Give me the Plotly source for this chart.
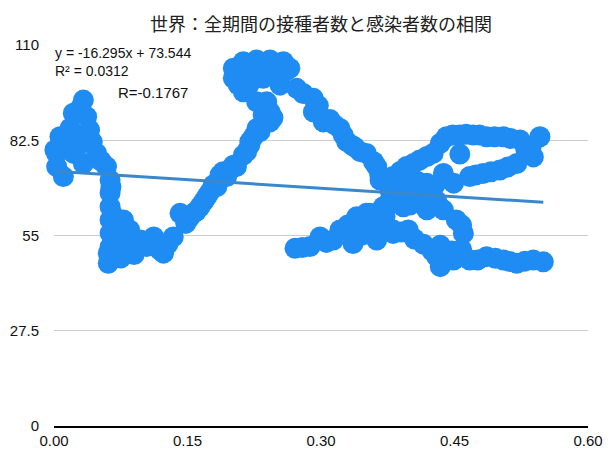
import plotly.graph_objects as go
import numpy as np

# vaccination ratio (x) vs infections (y)
vacc = [
    # left cluster
    0.033, 0.0217, 0.0367, 0.040, 0.0067, 0.012, 0.001, 0.003, 0.003, 0.0105,
    0.022, 0.033, 0.048, 0.059, 0.025, 0.015, 0.028, 0.018, 0.030, 0.043, 0.053,
    # vertical drop
    0.063, 0.063, 0.063, 0.063, 0.063, 0.063, 0.061, 0.061, 0.078, 0.085, 0.070,
    0.064, 0.066, 0.072,
    # bottom
    0.082, 0.097, 0.104, 0.112, 0.119, 0.123, 0.090, 0.075, 0.108, 0.128,
    # rising
    0.134, 0.148, 0.1416, 0.1565, 0.164, 0.1716, 0.179, 0.183, 0.1865, 0.190, 0.194,
    0.152, 0.160, 0.168, 0.175, 0.198,
    0.2015, 0.205, 0.2127, 0.2165, 0.220, 0.220, 0.2315, 0.228, 0.2427, 0.235,
    0.2427, 0.239, 0.2277, 0.2127, 0.2015, 0.224, 0.238, 0.246,
    # top
    0.2015, 0.2127, 0.2277, 0.2427, 0.2577, 0.265, 0.250, 0.235, 0.254, 0.2127, 0.222,
    0.206, 0.218, 0.235, 0.250, 0.260, 0.245, 0.207, 0.219,
    # falling to the right
    0.2727, 0.2914, 0.2914, 0.3026, 0.3213, 0.3289, 0.344, 0.351, 0.359, 0.3626,
    0.366, 0.3663, 0.3775, 0.310, 0.335, 0.280, 0.297, 0.315, 0.325, 0.338, 0.372,
    # upper right loop
    0.381, 0.396, 0.411, 0.426, 0.434, 0.441, 0.456, 0.471, 0.486, 0.505, 0.5236,
    0.546, 0.5386, 0.520, 0.501, 0.482, 0.467, 0.456, 0.4375, 0.449, 0.4187, 0.400, 0.530,
    0.389, 0.404, 0.419, 0.448, 0.463, 0.478, 0.495, 0.513, 0.536, 0.510, 0.491, 0.474,
    0.428, 0.409,
    # crossing
    0.3775, 0.400, 0.4225, 0.4187, 0.400, 0.3775, 0.390, 0.410, 0.430, 0.386,
    # lower right
    0.355, 0.374, 0.3925, 0.419, 0.4375, 0.452, 0.460, 0.434, 0.415, 0.398, 0.381,
    0.3626, 0.430, 0.449, 0.467, 0.486, 0.505, 0.520, 0.5386, 0.5498, 0.434, 0.447,
    0.458, 0.440, 0.425, 0.405, 0.390, 0.476, 0.496, 0.512, 0.529, 0.458,
    # lower left branch
    0.2708, 0.2876, 0.2989, 0.3138, 0.3213, 0.336, 0.340, 0.351, 0.3626, 0.370,
    0.381, 0.330, 0.350, 0.279, 0.306, 0.345, 0.360, 0.372,
]
cases = [
    94.1, 90.3, 89.3, 85.5, 83.5, 82.6, 79.7, 78.7, 74.9, 72.0,
    78.7, 75.8, 78.7, 74.9, 84.0, 80.0, 81.0, 86.0, 92.0, 82.0, 76.5,
    71.0, 67.3, 63.3, 59.5, 55.7, 51.7, 49.9, 47.0, 59.5, 56.6, 53.0,
    69.0, 61.0, 57.5,
    50.8, 53.7, 51.8, 54.6, 50.8, 49.9, 49.5, 48.5, 52.5, 52.5,
    54.6, 58.5, 61.4, 61.4, 63.3, 66.2, 69.6, 69.1, 72.5, 73.4, 72.0,
    60.0, 62.0, 64.8, 67.5, 74.0,
    75.3, 74.9, 78.2, 79.2, 81.1, 82.1, 85.0, 85.9, 87.8, 89.8,
    90.7, 93.6, 93.6, 96.5, 100.4, 83.5, 91.5, 89.0,
    103.3, 105.2, 105.7, 105.7, 105.2, 103.3, 100.4, 100.4, 98.4, 101.5, 103.0,
    102.0, 104.5, 104.8, 104.5, 102.5, 102.5, 98.5, 98.5,
    97.5, 94.6, 90.7, 87.8, 85.9, 82.1, 79.2, 78.7, 76.3, 74.9,
    72.5, 71.0, 69.6, 88.5, 81.0, 96.0, 92.5, 87.0, 84.0, 80.5, 71.0,
    72.0, 74.9, 76.8, 78.7, 81.6, 83.5, 84.0, 84.0, 83.5, 83.5, 82.6,
    83.5, 77.7, 75.8, 73.9, 72.9, 72.0, 78.5, 72.9, 70.1, 70.1, 70.1, 80.0,
    73.5, 75.8, 77.8, 84.0, 84.2, 84.0, 83.5, 83.0, 80.5, 74.8, 73.4, 72.5,
    69.5, 70.5,
    68.1, 66.7, 66.7, 63.8, 63.8, 65.2, 67.0, 65.5, 65.0, 66.0,
    61.4, 63.3, 63.3, 62.4, 62.4, 59.5, 55.6, 52.2, 52.5, 56.6, 55.6,
    54.6, 48.9, 47.9, 47.9, 48.9, 47.9, 47.0, 47.9, 47.4, 46.0, 50.5,
    51.0, 49.5, 50.5, 54.0, 56.0, 47.9, 48.4, 47.5, 47.6, 58.0,
    51.3, 51.8, 54.6, 53.7, 56.6, 52.7, 60.4, 61.4, 53.7, 63.3,
    56.6, 58.0, 57.0, 51.5, 53.0, 55.0, 58.5, 60.5,
]

# trend line as printed on the chart
slope = -16.295
intercept = 73.544
eq_text = "y = -16.295x + 73.544"
r2_text = "R² = 0.0312"
r_text = "R=-0.1767"

y_ticks = [0, 27.5, 55, 82.5, 110]
y_labels = ["0", "27.5", "55", "82.5", "110"]

fig = go.Figure()
fig.add_trace(go.Scatter(
    x=vacc, y=cases, mode="markers",
    marker=dict(size=21, color="#1f8cf3"),
    cliponaxis=False, showlegend=False,
))

tx = np.array([min(vacc), max(vacc)])
fig.add_trace(go.Scatter(
    x=tx, y=slope * tx + intercept, mode="lines",
    line=dict(color="#3a88cc", width=3),
    showlegend=False,
))

fig.add_annotation(x=0, y=1.0, xref="x", yref="paper", xanchor="left", yanchor="top",
                   text=eq_text + "<br>" + r2_text, showarrow=False, align="left",
                   font=dict(size=14, color="#111"), xshift=-1, yshift=2)
fig.add_annotation(x=0.07, y=1.0, xref="x", yref="paper", xanchor="left", yanchor="middle",
                   text=r_text, showarrow=False,
                   font=dict(size=15, color="#111"), yshift=-47)

# the page body has an 8px margin, so the figure is 8px smaller than the window
fig.update_layout(
    width=606, height=449,
    margin=dict(l=46, r=26, t=37, b=31),
    plot_bgcolor="white", paper_bgcolor="white",
    font=dict(family="Liberation Sans, Arial, sans-serif", size=15, color="#111"),
    title=dict(text="世界：全期間の接種者数と感染者数の相関", x=0.5165, xanchor="center",
               y=0.962, yanchor="middle",
               font=dict(family="Noto Sans CJK JP", size=18, color="#222")),
    xaxis=dict(range=[0, 0.6], dtick=0.15, tick0=0, tickformat=".2f",
               showgrid=False, zeroline=False, showline=True,
               linecolor="black", linewidth=1.5, automargin=False),
    yaxis=dict(range=[0, 110], tickvals=y_ticks, ticktext=y_labels,
               showgrid=True, gridcolor="#cccccc", gridwidth=1,
               zeroline=False, showline=False, ticklabelstandoff=14,
               automargin=False),
)

fig.write_html("out.html")
